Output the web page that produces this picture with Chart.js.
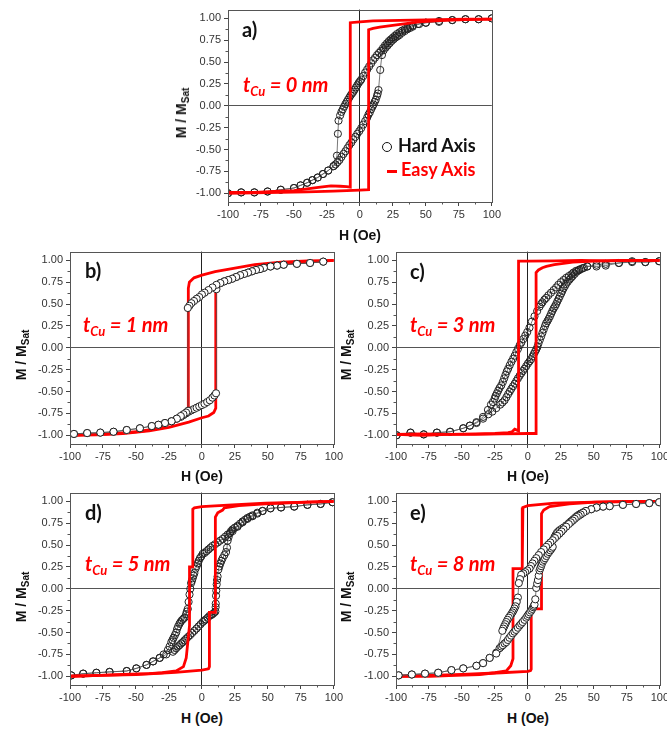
<!DOCTYPE html>
<html>
<head>
<meta charset="utf-8">
<script src="https://cdn.jsdelivr.net/npm/chart.js@4.4.0/dist/chart.umd.min.js"></script>
<style>
body { margin: 0; width: 667px; height: 732px; overflow: hidden; background: #fff; position: relative; font-family: "Liberation Sans", Arial, sans-serif; }
canvas { position: absolute; }
.lbl { position: absolute; font-family: Lato, "Open Sans", sans-serif; font-weight: bold; white-space: nowrap; line-height: 1; }
.tag { font-size: 20px; color: #111; }
.tcu { font-size: 20px; color: #f00; font-style: italic; }
.tcu sub { font-size: 13px; vertical-align: -4px; line-height: 0; }
.ytitle { position: absolute; font-weight: bold; font-size: 14px; color: #111; white-space: nowrap; line-height: 1; transform: translate(-50%, -50%) rotate(-90deg); }
.ytitle sub { font-size: 10px; vertical-align: -3px; line-height: 0; }
.xtitle { position: absolute; font-weight: bold; font-size: 14px; color: #111; white-space: nowrap; line-height: 1; transform: translate(-50%, -50%); }
.leg { font-size: 18px; }
</style>
</head>
<body>
<canvas id="ca" width="325" height="226"></canvas>
<canvas id="cb" width="325" height="226"></canvas>
<canvas id="cc" width="325" height="226"></canvas>
<canvas id="cd" width="325" height="226"></canvas>
<canvas id="ce" width="325" height="226"></canvas>

<div class="lbl tag" style="left:242px;top:19px">a)</div>
<div class="lbl tag" style="left:85px;top:260px">b)</div>
<div class="lbl tag" style="left:410px;top:261px">c)</div>
<div class="lbl tag" style="left:85px;top:502px">d)</div>
<div class="lbl tag" style="left:410px;top:502px">e)</div>

<div class="lbl tcu" style="left:243px;top:74px">t<sub>Cu</sub> = 0 nm</div>
<div class="lbl tcu" style="left:83px;top:314px">t<sub>Cu</sub> = 1 nm</div>
<div class="lbl tcu" style="left:410px;top:314px">t<sub>Cu</sub> = 3 nm</div>
<div class="lbl tcu" style="left:85px;top:553px">t<sub>Cu</sub> = 5 nm</div>
<div class="lbl tcu" style="left:410px;top:553px">t<sub>Cu</sub> = 8 nm</div>

<div style="position:absolute;left:382px;top:142px;width:10px;height:10px;border:1.5px solid #111;border-radius:50%;box-sizing:border-box"></div>
<div class="lbl leg" style="left:398px;top:136px;color:#111">Hard Axis</div>
<div style="position:absolute;left:387px;top:170px;width:10px;height:2.5px;background:#f00"></div>
<div class="lbl leg" style="left:401px;top:160px;color:#f00">Easy Axis</div>

<div class="ytitle" style="left:181px;top:113px">M / M<sub>Sat</sub></div>
<div class="ytitle" style="left:21px;top:355px">M / M<sub>Sat</sub></div>
<div class="ytitle" style="left:346px;top:355px">M / M<sub>Sat</sub></div>
<div class="ytitle" style="left:21px;top:597px">M / M<sub>Sat</sub></div>
<div class="ytitle" style="left:346px;top:597px">M / M<sub>Sat</sub></div>

<div class="xtitle" style="left:360px;top:235px">H (Oe)</div>
<div class="xtitle" style="left:202px;top:476px">H (Oe)</div>
<div class="xtitle" style="left:528px;top:476px">H (Oe)</div>
<div class="xtitle" style="left:202px;top:718px">H (Oe)</div>
<div class="xtitle" style="left:528px;top:718px">H (Oe)</div>

<script>
// tick labels
const xTicks = [-100, -75, -50, -25, 0, 25, 50, 75, 100];
const yTicks = [-1.0, -0.75, -0.5, -0.25, 0, 0.25, 0.5, 0.75, 1.0];

// a) tCu = 0 nm
const aEasyDescH = [100, 80, 60, 40, 20, 10, 0, -7.3, -7.3, -10, -15, -22, -30, -40, -50, -65, -80, -100];
const aEasyDescM = [0.99, 0.99, 0.985, 0.98, 0.975, 0.97, 0.96, 0.95, -0.93, -0.925, -0.92, -0.915, -0.93, -0.95, -0.97, -0.98, -0.99, -0.99];
const aEasyAscH = [-100, -80, -60, -40, -20, 0, 6.6, 6.6, 10, 15, 22, 32, 45, 60, 80, 100];
const aEasyAscM = [-1.0, -0.995, -0.99, -0.985, -0.975, -0.965, -0.96, 0.87, 0.885, 0.9, 0.915, 0.935, 0.96, 0.975, 0.985, 0.99];
const aHardDescH = [100, 90, 80, 70, 60, 50, 44, 40, 38, 36, 34, 32, 30, 28, 26.5, 25, 23.5, 22, 20.5, 19, 17.5, 16, 14.5, 13, 11.5, 10, 8.5, 7, 5.5, 4, 2.5, 1, 0, -1, -2, -3, -4, -5, -6, -7, -8, -9, -10, -11, -12, -13, -14, -15, -16.2, -16.7, -17.4, -20, -24, -28, -32, -36, -40, -45, -50, -60, -70, -80, -90, -100];
const aHardDescM = [1.0, 0.99, 0.99, 0.98, 0.96, 0.95, 0.935, 0.92, 0.905, 0.89, 0.875, 0.86, 0.84, 0.82, 0.80, 0.78, 0.76, 0.74, 0.715, 0.69, 0.66, 0.63, 0.605, 0.58, 0.55, 0.52, 0.485, 0.45, 0.415, 0.38, 0.34, 0.30, 0.28, 0.26, 0.235, 0.21, 0.185, 0.16, 0.14, 0.12, 0.095, 0.07, 0.045, 0.02, -0.01, -0.04, -0.07, -0.11, -0.17, -0.32, -0.57, -0.69, -0.74, -0.78, -0.82, -0.85, -0.88, -0.91, -0.94, -0.96, -0.98, -0.99, -0.99, -1.0];
const aHardAscH = [-100, -90, -80, -70, -60, -50, -45, -40, -36, -32, -28, -24, -20, -18.5, -17, -15.5, -14, -12.4, -11, -9.5, -8, -6.5, -5, -3.5, -2, -0.5, 1, 2.5, 4, 5.5, 6.5, 7.5, 8.5, 9.5, 10.3, 11.2, 12, 12.9, 13.5, 14.1, 15.4, 16.7, 18, 19.5, 21, 22.5, 24, 25.5, 27, 28.5, 30, 32, 34, 36, 38, 40, 45, 50, 60, 70, 80, 90, 100];
const aHardAscM = [-1.0, -0.99, -0.99, -0.98, -0.96, -0.94, -0.91, -0.88, -0.85, -0.82, -0.78, -0.74, -0.69, -0.67, -0.645, -0.62, -0.585, -0.55, -0.52, -0.485, -0.45, -0.42, -0.385, -0.355, -0.32, -0.29, -0.255, -0.215, -0.175, -0.135, -0.10, -0.075, -0.04, -0.01, 0.015, 0.045, 0.07, 0.11, 0.14, 0.18, 0.41, 0.58, 0.635, 0.665, 0.69, 0.715, 0.74, 0.76, 0.78, 0.795, 0.81, 0.835, 0.855, 0.875, 0.89, 0.905, 0.935, 0.95, 0.97, 0.98, 0.99, 0.99, 1.0];

// b) tCu = 1 nm
const bEasyDescH = [100, 80, 60, 40, 25, 10, 0, -6, -9.5, -10.3, -10.3, -12, -15, -20, -25, -32, -40, -50, -65, -80, -100];
const bEasyDescM = [1.0, 0.995, 0.98, 0.95, 0.91, 0.87, 0.83, 0.80, 0.75, 0.68, -0.72, -0.77, -0.80, -0.84, -0.87, -0.91, -0.94, -0.96, -0.98, -0.99, -1.0];
const bEasyAscH = [-100, -80, -60, -40, -25, -10, 0, 5, 9, 10.5, 10.5, 12, 15, 20, 30, 45, 60, 80, 100];
const bEasyAscM = [-1.0, -0.995, -0.98, -0.95, -0.91, -0.85, -0.80, -0.78, -0.74, -0.69, 0.66, 0.69, 0.73, 0.78, 0.86, 0.93, 0.96, 0.98, 1.0];
const bHardDescH = [92, 82, 72, 62, 57, 52, 47, 44, 41, 38, 35, 32, 29, 26, 23, 20, 17, 14, 11, 8, 5, 2, 0, -2, -4, -6, -8, -9.5, -10.7, -10.5, -12, -14, -16, -19, -23, -28, -33, -38, -47, -57, -67, -77, -87, -97];
const bHardDescM = [0.985, 0.97, 0.96, 0.95, 0.94, 0.93, 0.915, 0.90, 0.89, 0.875, 0.86, 0.845, 0.83, 0.81, 0.79, 0.775, 0.76, 0.74, 0.72, 0.69, 0.66, 0.63, 0.61, 0.58, 0.56, 0.535, 0.51, 0.48, 0.455, -0.72, -0.74, -0.76, -0.78, -0.81, -0.84, -0.86, -0.88, -0.895, -0.92, -0.94, -0.96, -0.97, -0.975, -0.985];
const bHardAscH = [-97, -87, -77, -67, -57, -47, -38, -33, -28, -23, -19, -16, -14, -12, -10, -8, -6, -4, -2, 0, 2, 4, 6, 8, 9.5, 10.7, 11, 14, 17, 20, 23, 26, 29, 32, 35, 38, 41, 44, 47, 52, 57, 62, 72, 82, 92];
const bHardAscM = [-0.985, -0.975, -0.97, -0.96, -0.94, -0.92, -0.895, -0.88, -0.86, -0.84, -0.81, -0.79, -0.77, -0.75, -0.73, -0.715, -0.70, -0.685, -0.67, -0.655, -0.64, -0.62, -0.60, -0.57, -0.545, -0.52, 0.67, 0.74, 0.76, 0.775, 0.79, 0.81, 0.83, 0.845, 0.86, 0.875, 0.89, 0.90, 0.915, 0.93, 0.94, 0.95, 0.96, 0.97, 0.985];

// c) tCu = 3 nm
const cEasyDescH = [100, 80, 60, 40, 20, 0, -7.1, -7.1, -10, -12, -15, -25, -40, -60, -80, -100];
const cEasyDescM = [1.0, 1.0, 0.995, 1.0, 0.995, 0.99, 0.99, -0.95, -0.93, -0.96, -0.97, -0.98, -0.985, -0.99, -0.985, -0.99];
const cEasyAscH = [-100, -80, -60, -40, -20, 0, 6.2, 6.2, 8, 11, 14, 20, 34, 50, 70, 100];
const cEasyAscM = [-0.99, -1.0, -0.99, -0.99, -0.985, -0.98, -0.98, 0.86, 0.89, 0.915, 0.93, 0.95, 0.98, 0.99, 1.0, 1.0];
const cHardDescH = [99.5, 89, 79, 69, 59, 52, 45, 41.5, 39, 36.5, 34.5, 33, 31, 29, 27, 25, 23, 21.4, 19.5, 17.5, 15.5, 13.8, 12.5, 11, 10, 8.8, 7, 5, 3, 1.2, -0.5, -2, -3.5, -5, -6.2, -7.5, -8.8, -10, -11.2, -12.5, -13.8, -15, -16, -17, -18, -19, -20.2, -21.5, -22.5, -23.5, -24.5, -25.2, -26.5, -28, -30.3, -34, -39, -44, -49, -59, -69, -79, -89, -99.5];
const cHardDescM = [0.99, 0.98, 0.99, 0.97, 0.94, 0.93, 0.93, 0.91, 0.895, 0.88, 0.86, 0.84, 0.82, 0.80, 0.775, 0.75, 0.72, 0.69, 0.66, 0.63, 0.60, 0.57, 0.55, 0.52, 0.50, 0.47, 0.42, 0.36, 0.30, 0.23, 0.18, 0.14, 0.10, 0.06, 0.03, -0.01, -0.05, -0.09, -0.125, -0.16, -0.20, -0.24, -0.27, -0.31, -0.35, -0.39, -0.43, -0.46, -0.49, -0.52, -0.55, -0.58, -0.62, -0.65, -0.71, -0.79, -0.85, -0.89, -0.92, -0.96, -0.97, -0.99, -0.97, -1.0];
const cHardAscH = [-99.5, -89, -79, -69, -59, -49, -44, -39, -34, -30, -27, -24, -21, -19.3, -17.7, -16.3, -15, -13.8, -12.6, -11.3, -10, -8.8, -7.6, -6.3, -5, -3.8, -2.6, -1.3, 0, 1.2, 2.5, 3.5, 4.5, 5.4, 6.3, 7.2, 8, 9, 10, 11, 12, 13, 13.8, 14.8, 15.7, 16.7, 17.6, 18.5, 19.5, 20.5, 21.4, 22.3, 23.3, 24.2, 25.2, 26.1, 27, 28, 28.9, 30.2, 31.5, 32.7, 33.9, 35.5, 37, 38.6, 40.3, 42.5, 45, 52, 59, 69, 79, 89, 99.5];
const cHardAscM = [-1.0, -0.97, -0.99, -0.97, -0.96, -0.92, -0.89, -0.86, -0.81, -0.76, -0.73, -0.69, -0.65, -0.625, -0.60, -0.565, -0.53, -0.50, -0.47, -0.44, -0.41, -0.38, -0.35, -0.32, -0.29, -0.265, -0.24, -0.21, -0.18, -0.155, -0.13, -0.10, -0.07, -0.045, -0.02, 0.01, 0.05, 0.09, 0.13, 0.17, 0.21, 0.25, 0.28, 0.305, 0.33, 0.36, 0.39, 0.42, 0.45, 0.475, 0.50, 0.53, 0.56, 0.59, 0.62, 0.65, 0.68, 0.705, 0.73, 0.755, 0.78, 0.80, 0.82, 0.845, 0.87, 0.885, 0.90, 0.915, 0.93, 0.95, 0.96, 0.97, 0.98, 0.98, 0.99];

// d) tCu = 5 nm
const dEasyDescH = [100, 80, 48, 23, 0, -5.7, -6.9, -6.9, -9.4, -9.4, -11.9, -14, -19.5, -30, -40, -60, -77, -100];
const dEasyDescM = [1.0, 0.99, 0.98, 0.96, 0.94, 0.925, 0.91, 0.25, 0.25, -0.42, -0.79, -0.89, -0.94, -0.96, -0.97, -0.98, -0.99, -1.0];
const dEasyAscH = [-100, -77, -50, -20, 0, 5, 5.7, 5.7, 10.2, 10.2, 12, 15.7, 17, 28, 48, 80, 100];
const dEasyAscM = [-1.0, -0.99, -0.98, -0.955, -0.93, -0.915, -0.89, -0.27, -0.27, 0.82, 0.87, 0.90, 0.925, 0.95, 0.97, 0.99, 1.0];
const dHardDescH = [99, 90, 80, 70, 60, 52, 46, 42, 38.4, 34.5, 30.8, 27, 23.3, 21.4, 19.5, 17.6, 15.7, 13.8, 12, 10, 8, 6.5, 5, 3.5, 2, 0.6, -0.5, -1.5, -2.4, -3.2, -4, -4.8, -5.7, -6.4, -7, -7.6, -8.2, -8.8, -9.4, -10.1, -10.7, -11.4, -12, -13.2, -14.2, -15.2, -16.2, -17, -18, -18.8, -19.5, -20.5, -21.5, -22.3, -23.2, -24.5, -25.8, -29, -32, -37, -42, -49.7, -57, -70, -80, -90, -99];
const dHardDescM = [0.99, 0.97, 0.96, 0.94, 0.93, 0.92, 0.89, 0.86, 0.83, 0.80, 0.76, 0.71, 0.66, 0.64, 0.62, 0.595, 0.57, 0.55, 0.53, 0.51, 0.49, 0.47, 0.45, 0.43, 0.41, 0.40, 0.37, 0.35, 0.32, 0.29, 0.26, 0.23, 0.18, 0.15, 0.12, 0.09, 0.065, 0.0, -0.065, -0.15, -0.23, -0.26, -0.29, -0.33, -0.345, -0.36, -0.38, -0.40, -0.43, -0.46, -0.50, -0.53, -0.56, -0.585, -0.61, -0.66, -0.70, -0.75, -0.79, -0.83, -0.87, -0.91, -0.94, -0.95, -0.96, -0.97, -0.99];
const dHardAscH = [-99, -90, -80, -70, -57, -49.7, -42, -37, -32, -27, -22, -20.7, -19.5, -18.2, -17, -15.7, -14.5, -13.2, -11.9, -10.5, -9, -7.4, -5.7, -4.1, -2.5, -1, 0.6, 1.8, 3, 4.4, 5.7, 7, 8, 9.2, 10.2, 10.4, 10.5, 10.7, 10.9, 11.2, 11.5, 11.9, 12.5, 13.2, 14, 14.8, 15.7, 17, 18.3, 19, 19.5, 20.2, 21, 22.1, 23.3, 25, 27, 28.9, 30.8, 32.7, 34.5, 36.5, 38.4, 42, 46, 52, 60, 70, 80, 90, 99];
const dHardAscM = [-0.99, -0.97, -0.96, -0.95, -0.94, -0.91, -0.87, -0.83, -0.79, -0.75, -0.72, -0.70, -0.68, -0.66, -0.645, -0.625, -0.61, -0.59, -0.57, -0.55, -0.53, -0.505, -0.48, -0.455, -0.43, -0.405, -0.38, -0.365, -0.35, -0.33, -0.31, -0.30, -0.29, -0.275, -0.26, -0.21, -0.17, -0.08, -0.02, 0.05, 0.10, 0.14, 0.22, 0.255, 0.29, 0.32, 0.35, 0.385, 0.42, 0.47, 0.55, 0.59, 0.63, 0.66, 0.68, 0.70, 0.72, 0.745, 0.77, 0.79, 0.81, 0.825, 0.84, 0.87, 0.89, 0.92, 0.93, 0.94, 0.96, 0.97, 0.99];

// e) tCu = 8 nm
const eEasyDescH = [100, 50, 20, 0, -3.8, -4.3, -4.3, -11.3, -11.3, -13, -16.4, -25, -36.5, -55, -74, -100];
const eEasyDescM = [1.0, 0.99, 0.98, 0.95, 0.93, 0.92, 0.23, 0.23, -0.80, -0.88, -0.94, -0.96, -0.98, -0.99, -1.0, -1.0];
const eEasyAscH = [-100, -74, -50, -20, 0, 2, 2.5, 2.5, 10.3, 10.3, 12, 16.4, 31.5, 51, 75, 100];
const eEasyAscM = [-1.0, -0.99, -0.98, -0.96, -0.945, -0.935, -0.92, -0.23, -0.23, 0.86, 0.90, 0.94, 0.97, 0.99, 1.0, 1.0];
const eHardDescH = [99.5, 92, 82, 72, 62, 57, 52, 48, 44, 42, 40, 38.5, 37, 35.5, 34, 32.5, 31, 29, 27, 25.5, 23.9, 22.2, 20.5, 18.8, 17, 15.4, 13.8, 12, 10, 8.2, 6.3, 4.9, 3.5, 2.3, 1.2, -0.5, -2, -3.5, -5.1, -6, -6.9, -7.6, -8.5, -9.4, -10.2, -11, -11.8, -12.6, -13.5, -14.5, -15.5, -16.4, -17.2, -18, -18.7, -19.4, -24, -29, -34, -39, -49, -58, -68, -78, -88, -98];
const eHardDescM = [0.99, 0.98, 0.97, 0.96, 0.945, 0.94, 0.93, 0.91, 0.89, 0.87, 0.85, 0.835, 0.82, 0.80, 0.78, 0.76, 0.74, 0.71, 0.68, 0.655, 0.63, 0.605, 0.58, 0.555, 0.53, 0.505, 0.48, 0.45, 0.42, 0.385, 0.35, 0.32, 0.29, 0.26, 0.23, 0.21, 0.19, 0.175, 0.16, 0.11, 0.065, -0.10, -0.15, -0.20, -0.225, -0.25, -0.27, -0.29, -0.31, -0.33, -0.355, -0.38, -0.405, -0.43, -0.455, -0.48, -0.74, -0.79, -0.85, -0.88, -0.91, -0.93, -0.96, -0.97, -0.98, -0.99];
const eHardAscH = [-98, -88, -78, -68, -58, -49, -39, -34, -29, -24, -21.5, -20.2, -19, -17.7, -16.4, -15.2, -14, -12.7, -11.4, -10.2, -9, -7.6, -6.3, -5.1, -4, -2.6, -1.3, -0.4, 0.5, 1.5, 2.5, 3.3, 4, 4.5, 5, 5.6, 6.3, 7, 7.6, 8.2, 8.8, 9.4, 10, 10.6, 11.3, 12.2, 13, 14, 15, 16, 17, 18, 18.8, 20.1, 21, 22, 23, 24, 25.5, 27, 29, 31, 32.5, 34, 35.5, 37, 38.5, 40, 42, 44, 48, 52, 57, 62, 72, 82, 92, 99.5];
const eHardAscM = [-0.99, -0.98, -0.97, -0.96, -0.93, -0.91, -0.88, -0.85, -0.79, -0.73, -0.68, -0.66, -0.645, -0.625, -0.61, -0.585, -0.56, -0.535, -0.51, -0.49, -0.47, -0.445, -0.42, -0.40, -0.38, -0.355, -0.33, -0.31, -0.29, -0.27, -0.25, -0.23, -0.21, -0.195, -0.18, -0.12, 0.01, 0.06, 0.10, 0.15, 0.21, 0.235, 0.26, 0.285, 0.31, 0.33, 0.35, 0.375, 0.40, 0.42, 0.44, 0.46, 0.48, 0.59, 0.615, 0.64, 0.655, 0.67, 0.685, 0.70, 0.725, 0.75, 0.77, 0.79, 0.81, 0.83, 0.845, 0.86, 0.875, 0.89, 0.91, 0.93, 0.94, 0.945, 0.96, 0.97, 0.98, 0.99];

function pts(h, m) {
    return h.map((v, i) => ({ x: v, y: m[i] }));
}

// box around the plot area and small minor ticks
const frame = {
    id: 'frame',
    afterDraw(chart) {
        const ctx = chart.ctx, a = chart.chartArea;
        const xs = chart.scales.x, ys = chart.scales.y;
        ctx.save();
        ctx.strokeStyle = '#555';
        ctx.lineWidth = 1;
        ctx.strokeRect(Math.round(a.left) + 0.5, Math.round(a.top) + 0.5, Math.round(a.right - a.left), Math.round(a.bottom - a.top));
        ctx.beginPath();
        for (let i = 0; i < xTicks.length - 1; i++) {
            const px = Math.round(xs.getPixelForValue((xTicks[i] + xTicks[i + 1]) / 2)) + 0.5;
            ctx.moveTo(px, a.bottom);
            ctx.lineTo(px, a.bottom + 2.5);
        }
        for (let i = 0; i < yTicks.length - 1; i++) {
            const py = Math.round(ys.getPixelForValue((yTicks[i] + yTicks[i + 1]) / 2)) + 0.5;
            ctx.moveTo(a.left, py);
            ctx.lineTo(a.left - 2.5, py);
        }
        ctx.stroke();
        ctx.restore();
    }
};

function makePanel(id, left, top, easy, hard, circlesOnTop, fill) {
    const cv = document.getElementById(id);
    cv.style.left = left + 'px';
    cv.style.top = top + 'px';
    const redOrder = circlesOnTop ? 2 : 0;
    const hardOrder = circlesOnTop ? 0 : 2;
    const datasets = [];
    easy.forEach(b => datasets.push({
        label: 'Easy Axis', data: pts(b[0], b[1]), showLine: true,
        borderColor: '#ff0000', borderWidth: 2.8, pointRadius: 0, tension: 0, order: redOrder
    }));
    hard.forEach(b => datasets.push({
        label: 'Hard Axis', data: pts(b[0], b[1]), showLine: true,
        borderColor: '#555', borderWidth: 0.8, tension: 0,
        pointRadius: 3.6, pointBorderColor: '#222', pointBorderWidth: 1,
        pointBackgroundColor: fill, order: hardOrder
    }));
    new Chart(cv, {
        type: 'scatter',
        data: { datasets: datasets },
        options: {
            responsive: false,
            animation: false,
            events: [],
            layout: { padding: { top: 5, right: 10, left: 0, bottom: 0 } },
            plugins: { legend: { display: false }, tooltip: { enabled: false } },
            scales: {
                x: {
                    type: 'linear', min: -100, max: 100,
                    afterBuildTicks: s => { s.ticks = xTicks.map(v => ({ value: v })); },
                    afterFit: s => { s.height = 24; },
                    border: { display: false },
                    grid: {
                        color: c => (c.tick && c.tick.value === 0) ? '#222' : 'rgba(0,0,0,0)',
                        tickColor: '#444', tickLength: 4, lineWidth: 1
                    },
                    ticks: {
                        color: '#333', padding: 2, maxRotation: 0, autoSkip: false,
                        font: { family: 'Liberation Sans', size: 11 },
                        callback: v => String(v)
                    }
                },
                y: {
                    type: 'linear', min: -1.1, max: 1.1,
                    afterBuildTicks: s => { s.ticks = yTicks.map(v => ({ value: v })); },
                    afterFit: s => { s.width = 50; },
                    border: { display: false },
                    grid: {
                        color: c => (c.tick && c.tick.value === 0) ? '#555' : 'rgba(0,0,0,0)',
                        tickColor: '#444', tickLength: 4, lineWidth: 1
                    },
                    ticks: {
                        color: '#333', padding: 3, autoSkip: false,
                        font: { family: 'Liberation Sans', size: 11 },
                        callback: v => Number(v).toFixed(2)
                    }
                }
            }
        },
        plugins: [frame]
    });
}

makePanel('ca', 178, 0,
    [[aEasyDescH, aEasyDescM], [aEasyAscH, aEasyAscM]],
    [[aHardDescH, aHardDescM], [aHardAscH, aHardAscM]], false, 'rgba(255,255,255,0)');
makePanel('cb', 20, 242,
    [[bEasyDescH, bEasyDescM], [bEasyAscH, bEasyAscM]],
    [[bHardDescH, bHardDescM], [bHardAscH, bHardAscM]], true, '#fff');
makePanel('cc', 346, 242,
    [[cEasyDescH, cEasyDescM], [cEasyAscH, cEasyAscM]],
    [[cHardDescH, cHardDescM], [cHardAscH, cHardAscM]], false, 'rgba(255,255,255,0)');
makePanel('cd', 20, 483,
    [[dEasyDescH, dEasyDescM], [dEasyAscH, dEasyAscM]],
    [[dHardDescH, dHardDescM], [dHardAscH, dHardAscM]], false, 'rgba(255,255,255,0)');
makePanel('ce', 346, 483,
    [[eEasyDescH, eEasyDescM], [eEasyAscH, eEasyAscM]],
    [[eHardDescH, eHardDescM], [eHardAscH, eHardAscM]], true, '#fff');
</script>
</body>
</html>
